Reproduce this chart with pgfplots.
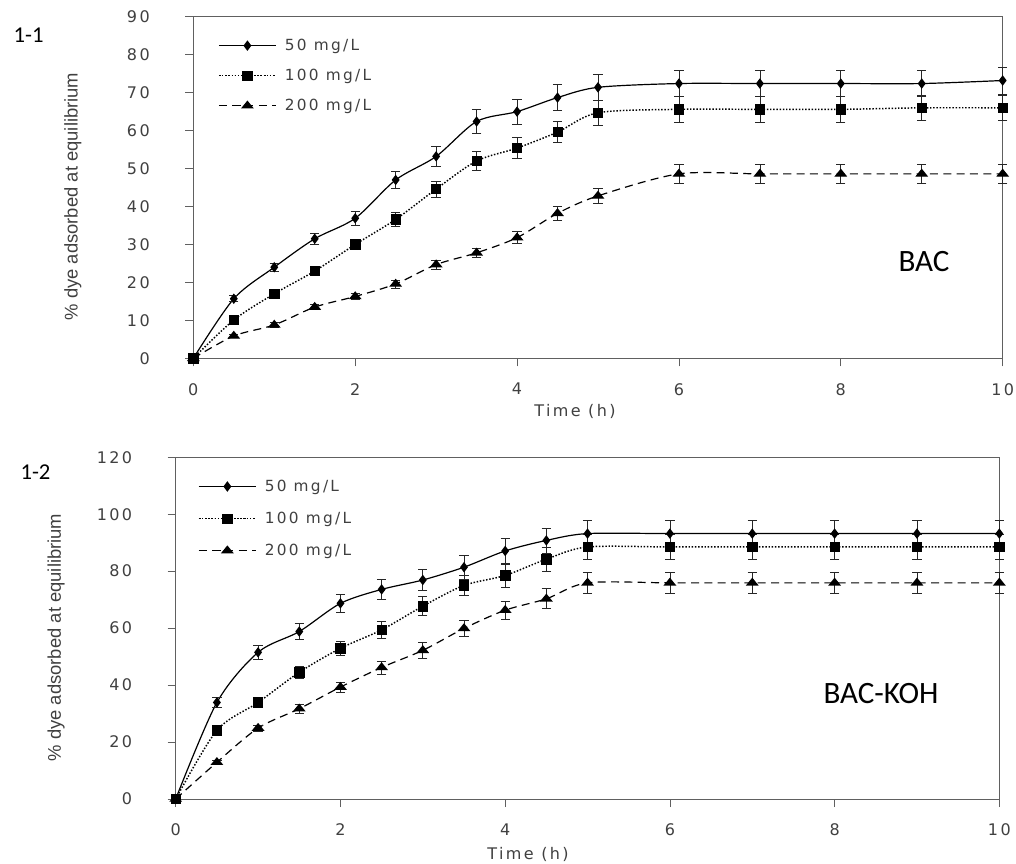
\documentclass[border=0pt]{standalone}
\usepackage{pgfplots}
\pgfplotsset{compat=1.18}
\usepackage{pgfplotstable}
\usepackage{fontspec}
\setmainfont{DejaVu Sans}
\newfontfamily\tickfont[LetterSpace=15]{DejaVu Sans}
\newfontfamily\labfont{Liberation Sans}
\newfontfamily\calfont{Carlito}
\definecolor{txtgray}{HTML}{404040}
\definecolor{axgray}{HTML}{606060}

% BAC: time (h), % adsorbed, error
\pgfplotstableread{
x y e
0 0 0
0.5 15.7 0.8
1 24.0 1.0
1.5 31.5 1.5
2 36.9 1.75
2.5 47.0 2.3
3 53.2 2.6
3.5 62.4 3.2
4 65.0 3.25
4.5 68.7 3.4
5 71.4 3.5
6 72.4 3.5
7 72.4 3.5
8 72.4 3.5
9 72.4 3.5
10 73.2 3.6
}\bacA
\pgfplotstableread{
x y e
0 0 0
0.5 10.1 0.6
1 17.0 0.6
1.5 23.0 0.8
2 30.0 1.3
2.5 36.6 1.75
3 44.6 2.1
3.5 52.0 2.6
4 55.4 2.7
4.5 59.6 2.8
5 64.7 3.25
6 65.6 3.3
7 65.6 3.3
8 65.6 3.3
9 66.0 3.4
10 66.0 3.4
}\bacB
\pgfplotstableread{
x y e
0 0 0
0.5 5.9 0.5
1 8.8 0.6
1.5 13.5 0.7
2 16.3 0.8
2.5 19.6 1.05
3 24.7 1.15
3.5 27.8 1.3
4 31.8 1.6
4.5 38.2 1.8
5 42.8 2.0
6 48.6 2.4
7 48.6 2.4
8 48.6 2.4
9 48.6 2.4
10 48.6 2.4
}\bacC

% BAC-KOH
\pgfplotstableread{
x y e
0 0 0
0.5 33.9 1.75
1 51.5 2.5
1.5 58.8 2.9
2 68.7 3.3
2.5 73.6 3.6
3 76.9 3.75
3.5 81.4 4.1
4 87.1 4.3
4.5 90.8 4.4
5 93.2 4.7
6 93.2 4.7
7 93.2 4.7
8 93.2 4.7
9 93.2 4.7
10 93.2 4.7
}\kohA
\pgfplotstableread{
x y e
0 0 0
0.5 24.1 1.0
1 33.9 1.7
1.5 44.5 2.1
2 52.9 2.6
2.5 59.4 2.9
3 67.7 3.3
3.5 75.0 3.5
4 78.5 4.0
4.5 84.2 4.3
5 88.5 4.4
6 88.5 4.4
7 88.5 4.4
8 88.5 4.4
9 88.5 4.4
10 88.5 4.4
}\kohB
\pgfplotstableread{
x y e
0 0 0
0.5 12.9 0.8
1 24.9 1.0
1.5 31.7 1.6
2 39.3 1.8
2.5 46.2 2.3
3 52.2 2.7
3.5 59.9 2.9
4 66.3 3.2
4.5 70.3 3.5
5 75.9 3.8
6 75.9 3.8
7 75.9 3.8
8 75.9 3.8
9 75.9 3.8
10 75.9 3.8
}\kohC

\pgfplotsset{
  kin/.style={
    scale only axis, clip=false,
    xmin=0, xmax=10, xtick={0,2,...,10},
    axis line style={axgray, line width=0.6pt},
    tick style={axgray, line width=0.6pt},
    tick align=outside, major tick length=6pt,
    xtick pos=bottom, ytick pos=left,
    /pgf/number format/assume math mode=true,
    ticklabel style={font=\tickfont\fontsize{12}{14}\selectfont, text=txtgray, inner sep=0pt},
    xticklabel style={anchor=north, yshift=-12.5pt},
    yticklabel style={anchor=east, xshift=-26.5pt},
    xlabel style={font=\tickfont\fontsize{12}{14}\selectfont, text=txtgray, anchor=center},
    ylabel style={font=\labfont\fontsize{13.8}{16}\selectfont, text=txtgray, anchor=center},
    legend style={draw=none, fill=none, anchor=north west, inner sep=0pt, outer sep=0pt,
      font=\tickfont\fontsize{11.5}{13}\selectfont, text=txtgray, row sep=12.5pt,
      nodes={inner sep=0pt}, /tikz/column 1/.style={column sep=6pt}},
    legend cell align=left,
    legend image code/.code={\draw[mark repeat=2,mark phase=2,##1] plot coordinates {(0pt,0pt) (21.5pt,0pt) (43pt,0pt)};},
    every axis plot/.append style={black, line width=0.9pt, smooth, tension=0.5},
  },
  errs/.style={error bars/.cd, y dir=both, y explicit,
    error bar style={solid, line width=0.5pt, black!85},
    error mark options={solid, mark size=3.5pt, line width=0.5pt, black!85, rotate=90}},
  s50/.style={solid, mark=diamond*, mark size=3.2pt, mark options={solid}},
  s100/.style={line width=1.1pt, dash pattern=on 1.1pt off 1.3pt, mark=square*, mark size=3.5pt, mark options={solid, line width=0.5pt}},
  s200/.style={dash pattern=on 6pt off 4pt, mark=triangle*, mark size=3.2pt, mark options={solid, xscale=1.4}},
}

\begin{document}
\begin{tikzpicture}
\useasboundingbox (0,0) rectangle (762pt,647.25pt);

\begin{axis}[kin,
  at={(145pt,378.5pt)}, anchor=south west,
  width=607pt, height=256.2pt,
  ymin=0, ymax=90, ytick={0,10,...,90},
  xlabel={Time (h)}, ylabel={\% dye adsorbed at equilibrium},
  xlabel style={at={(axis description cs:0.4716,-0.1543)}},
  ylabel style={at={(axis description cs:-0.1487,0.4737)}},
  legend style={at={(axis description cs:0.0305,0.935)}},
]
\addplot[s50, errs] table[x=x, y=y, y error=e] {\bacA};
\addlegendentry{50 mg/L}
\addplot[s100, errs] table[x=x, y=y, y error=e] {\bacB};
\addlegendentry{100 mg/L}
\addplot[s200, errs] table[x=x, y=y, y error=e] {\bacC};
\addlegendentry{200 mg/L}
\end{axis}

\begin{axis}[kin,
  at={(131.8pt,48pt)}, anchor=south west,
  width=617.7pt, height=256.3pt,
  ymin=0, ymax=120, ytick={0,20,...,120},
  xlabel={Time (h)}, ylabel={\% dye adsorbed at equilibrium},
  xlabel style={at={(axis description cs:0.4278,-0.161)}},
  ylabel style={at={(axis description cs:-0.1453,0.4726)}},
  legend style={at={(axis description cs:0.027,0.934)}, row sep=14pt},
]
\addplot[s50, errs] table[x=x, y=y, y error=e] {\kohA};
\addlegendentry{50 mg/L}
\addplot[s100, errs] table[x=x, y=y, y error=e] {\kohB};
\addlegendentry{100 mg/L}
\addplot[s200, errs] table[x=x, y=y, y error=e] {\kohC};
\addlegendentry{200 mg/L}
\end{axis}

\node[font=\calfont\fontsize{17}{20}\selectfont] at (21.4pt,620.6pt) {1-1};
\node[font=\calfont\fontsize{17}{20}\selectfont] at (26.6pt,292.9pt) {1-2};
\node[font=\calfont\fontsize{23.3}{27}\selectfont] at (693pt,450.75pt) {BAC};
\node[font=\calfont\fontsize{23.3}{27}\selectfont] at (660.75pt,126.75pt) {BAC-KOH};
\end{tikzpicture}
\end{document}
